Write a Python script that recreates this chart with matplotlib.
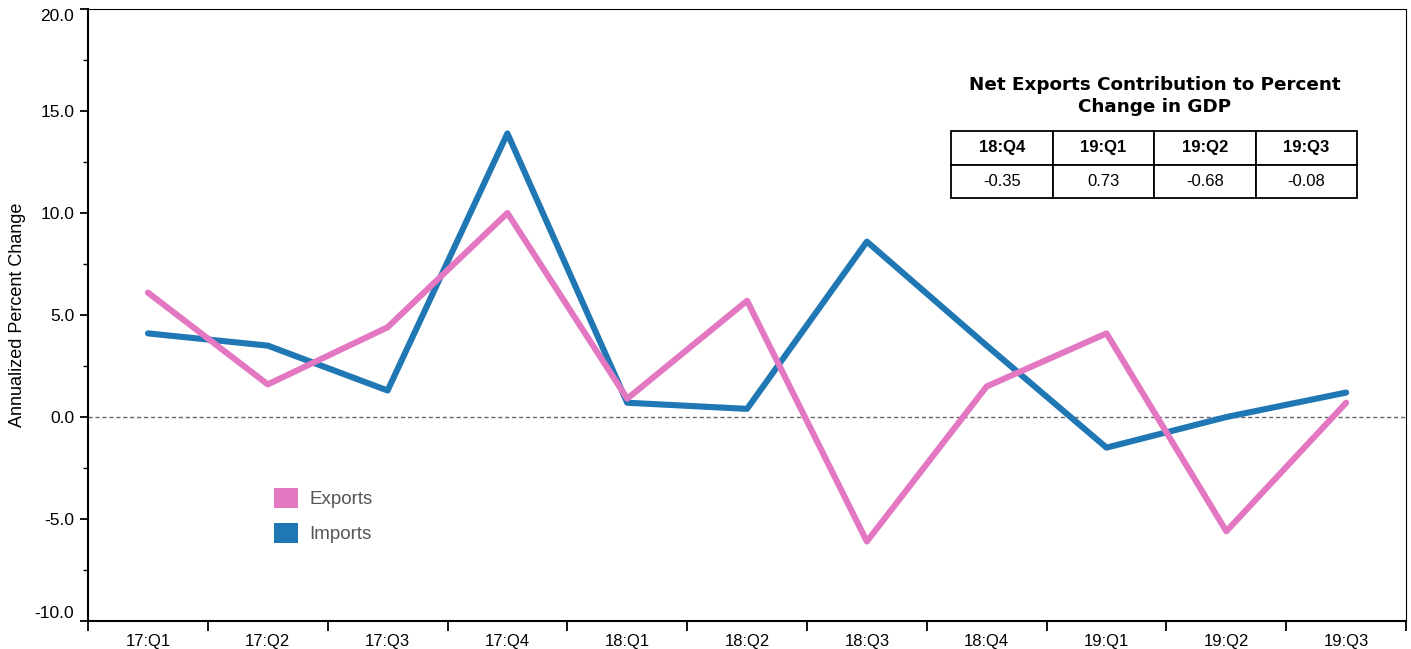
import numpy as np
import matplotlib
matplotlib.use('Agg')
import matplotlib.pyplot as plt
from matplotlib.patches import Patch
from matplotlib.ticker import MultipleLocator, FormatStrFormatter

plt.rcParams['font.family'] = ['Liberation Sans', 'DejaVu Sans']

# data
quarters = ['17:Q1', '17:Q2', '17:Q3', '17:Q4', '18:Q1', '18:Q2',
            '18:Q3', '18:Q4', '19:Q1', '19:Q2', '19:Q3']
exports = [6.1, 1.6, 4.4, 10.0, 0.9, 5.7, -6.1, 1.5, 4.1, -5.6, 0.7]
imports = [4.1, 3.5, 1.3, 13.9, 0.7, 0.4, 8.6, 3.5, -1.5, 0.0, 1.2]

table_cols = ['18:Q4', '19:Q1', '19:Q2', '19:Q3']
table_vals = ['-0.35', '0.73', '-0.68', '-0.08']

pink = '#e377c2'
blue = '#1f77b4'

fig = plt.figure(figsize=(14.11, 6.49), dpi=100)
ax = fig.add_axes([0.0624, 0.0431, 0.9341, 0.9430])

x = np.arange(len(quarters))
ax.axhline(0, color='#666666', lw=1.0, ls=(0, (3, 2)), zorder=1)
ax.plot(x, imports, color=blue, lw=4.4, solid_joinstyle='round',
        solid_capstyle='round', zorder=3)
ax.plot(x, exports, color=pink, lw=4.4, solid_joinstyle='round',
        solid_capstyle='round', zorder=4)

ax.set_xlim(-0.5, len(quarters) - 0.5)
ax.set_ylim(-10, 20)

# y axis
ax.set_yticks(np.arange(-10, 20.1, 5))
ax.yaxis.set_minor_locator(MultipleLocator(2.5))
ax.yaxis.set_major_formatter(FormatStrFormatter('%.1f'))
ax.tick_params(axis='y', which='major', direction='out', length=6, width=1.3,
               labelsize=12.5, pad=4)
ax.tick_params(axis='y', which='minor', direction='out', length=3.5, width=1.0)
ax.set_ylabel('Annualized Percent Change', fontsize=13, labelpad=6)

# x axis: labels centred, ticks on the boundaries
ax.set_xticks(x)
ax.set_xticklabels(quarters)
ax.set_xticks(np.arange(-0.5, len(quarters), 1), minor=True)
ax.tick_params(axis='x', which='major', length=0, labelsize=12, pad=9)
ax.tick_params(axis='x', which='minor', direction='out', length=7, width=1.3)

for s in ['left', 'bottom']:
    ax.spines[s].set_linewidth(1.5)
for s in ['top', 'right']:
    ax.spines[s].set_linewidth(0.8)

# legend
handles = [Patch(facecolor=pink, edgecolor='none', label='Exports'),
           Patch(facecolor=blue, edgecolor='none', label='Imports')]
leg = ax.legend(handles=handles, loc='upper left', bbox_to_anchor=(0.128, 0.245),
                frameon=False, fontsize=13.5, handlelength=1.3, handleheight=1.3,
                handletextpad=0.6, labelspacing=0.75)
for t in leg.get_texts():
    t.set_color('#555555')

# inset table
ax.text(0.809, 0.858, 'Net Exports Contribution to Percent\nChange in GDP',
        transform=ax.transAxes, ha='center', va='center', fontsize=13.2,
        fontweight='bold', family='DejaVu Sans', linespacing=1.3)
tbl = ax.table(cellText=[table_vals], colLabels=table_cols, cellLoc='center',
               bbox=[0.6548, 0.691, 0.308, 0.1095], zorder=5)
tbl.auto_set_font_size(False)
for (r, c), cell in tbl.get_celld().items():
    cell.set_linewidth(1.3)
    cell.set_edgecolor('black')
    cell.get_text().set_fontsize(12)
    if r == 0:
        cell.get_text().set_fontweight('bold')

# end labels of the y axis sit inside the axis range
fig.canvas.draw()
for tick in ax.yaxis.get_major_ticks():
    txt = tick.label1.get_text()
    if txt == '20.0':
        tick.label1.set_va('top')
    elif txt == '-10.0':
        tick.label1.set_va('bottom')

fig.savefig('out.png', dpi=100)
